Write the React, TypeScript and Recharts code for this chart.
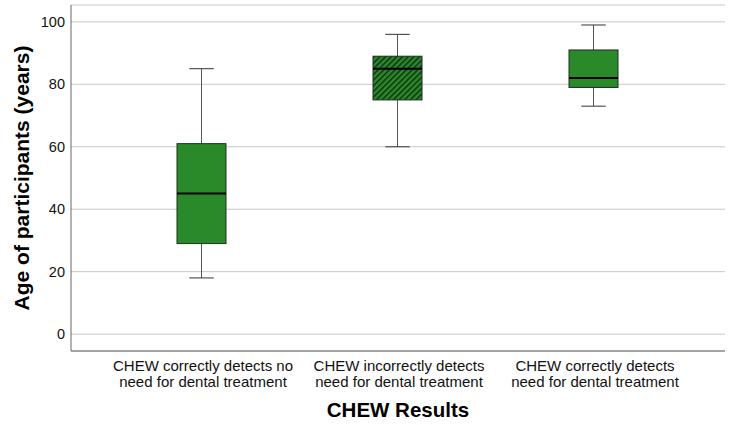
import { ComposedChart, Bar, XAxis, YAxis, CartesianGrid, Label } from 'recharts'

// box plot summary per CHEW outcome
const categories = [
  'CHEW correctly detects no|need for dental treatment',
  'CHEW incorrectly detects|need for dental treatment',
  'CHEW correctly detects|need for dental treatment',
]
const whiskerLow = [18, 60, 73]
const q1 = [29, 75, 79]
const median = [45, 85, 82]
const q3 = [61, 89, 91]
const whiskerHigh = [85, 96, 99]
const hatched = [false, true, false]
const yTicks = [0, 20, 40, 60, 80, 100]

const data = categories.map((name, i) => ({
  name,
  range: [whiskerLow[i], whiskerHigh[i]],
  q1: q1[i],
  median: median[i],
  q3: q3[i],
  hatched: hatched[i],
}))

const FONT = '"Liberation Sans", Arial, sans-serif'
const GREEN = '#2a8a2a'

function BoxShape(props: any) {
  const { x, y, width, height, payload } = props
  const [lo, hi] = payload.range
  // map a value inside the whisker range to pixels using the bar's own extent
  const py = (v: number) => y + ((hi - v) / (hi - lo)) * height
  const cx = x + width / 2
  const top = py(payload.q3)
  const bot = py(payload.q1)
  const med = py(payload.median)
  const cap = width / 4
  return (
    <g>
      <line x1={cx} x2={cx} y1={py(hi)} y2={top} stroke="#555" strokeWidth={1} />
      <line x1={cx} x2={cx} y1={bot} y2={py(lo)} stroke="#555" strokeWidth={1} />
      <line x1={cx - cap} x2={cx + cap} y1={py(hi)} y2={py(hi)} stroke="#333" strokeWidth={1} />
      <line x1={cx - cap} x2={cx + cap} y1={py(lo)} y2={py(lo)} stroke="#333" strokeWidth={1} />
      <rect
        x={x}
        y={top}
        width={width}
        height={bot - top}
        fill={payload.hatched ? 'url(#hatch)' : GREEN}
        stroke="#1e2e1e"
        strokeWidth={1}
      />
      <line x1={x} x2={x + width} y1={med} y2={med} stroke="#000" strokeWidth={2} />
    </g>
  )
}

function CategoryTick(props: any) {
  const { x, y, payload } = props
  const lines = String(payload.value).split('|')
  return (
    <text x={x + 2} y={y} textAnchor="middle" fontFamily={FONT} fontSize={15} fill="#111">
      {lines.map((l, i) => (
        <tspan key={i} x={x + 2} dy={i === 0 ? 18 : 16}>
          {l}
        </tspan>
      ))}
    </text>
  )
}

function YTitle(props: any) {
  const { viewBox } = props
  const cy = viewBox.y + viewBox.height / 2
  return (
    <text
      x={21}
      y={cy}
      transform={`rotate(-90 21 ${cy})`}
      textAnchor="middle"
      dominantBaseline="central"
      fontFamily={FONT}
      fontSize={21}
      fontWeight="bold"
      fill="#000"
    >
      Age of participants (years)
    </text>
  )
}

export default function App() {
  return (
    <div style={{ position: 'absolute', left: 0, top: 0, width: 730, height: 425, background: '#fff' }}>
      <ComposedChart
        width={730}
        height={425}
        data={data}
        margin={{ top: 5, right: 5, bottom: 0, left: 11 }}
      >
        <defs>
          <pattern id="hatch" width={4} height={4} patternUnits="userSpaceOnUse" patternTransform="rotate(45)">
            <rect width={4} height={4} fill={GREEN} />
            <rect width={1.4} height={4} fill="#0f2a0f" />
          </pattern>
        </defs>
        <CartesianGrid horizontal vertical={false} stroke="#c8c8c8" />
        <XAxis
          dataKey="name"
          height={74}
          padding={{ left: 32, right: 34 }}
          axisLine={{ stroke: '#666' }}
          tickLine={false}
          tickSize={0}
          tick={<CategoryTick />}
          interval={0}
        >
          <Label
            value="CHEW Results"
            position="insideBottom"
            offset={8}
            style={{ fontFamily: FONT, fontSize: 20.5, fontWeight: 'bold', fill: '#000' }}
          />
        </XAxis>
        <YAxis
          type="number"
          domain={[-5.4, 105.4]}
          ticks={yTicks}
          width={60}
          axisLine={{ stroke: '#666' }}
          tickLine={false}
          tickSize={0}
          tickMargin={6}
          tick={{ fontFamily: FONT, fontSize: 14.5, fill: '#111' }}
        >
          <Label content={<YTitle />} />
        </YAxis>
        <Bar dataKey="range" barSize={49} shape={<BoxShape />} isAnimationActive={false} />
      </ComposedChart>
    </div>
  )
}
